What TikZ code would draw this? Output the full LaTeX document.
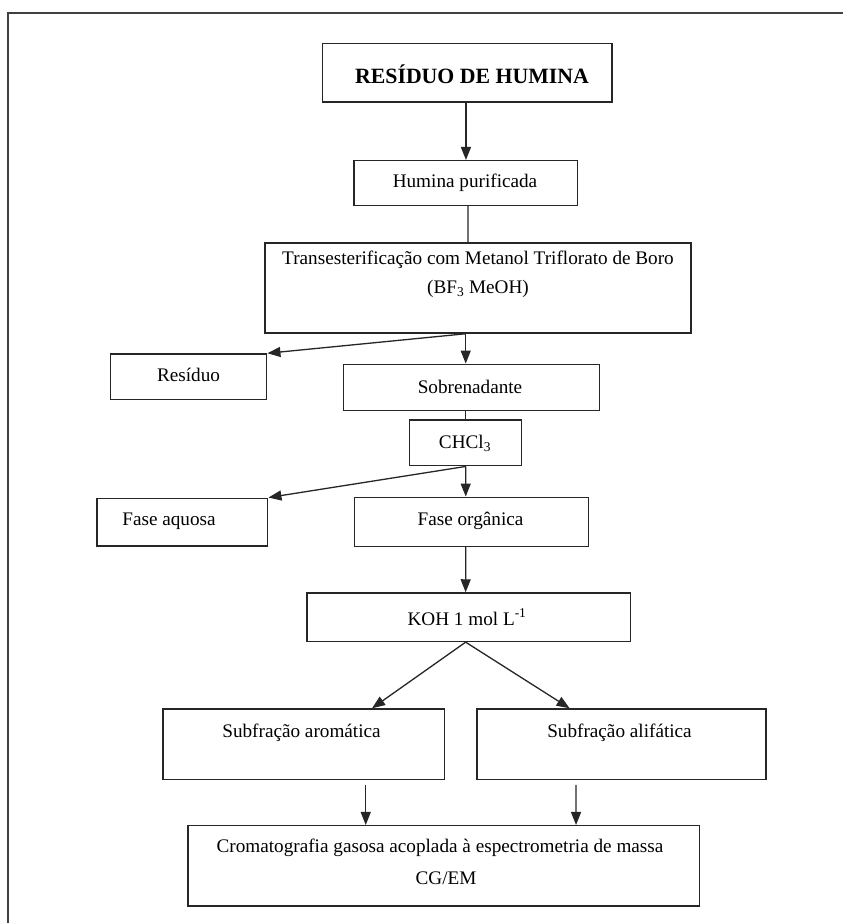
\documentclass[tikz,border=0pt]{standalone}
\usepackage{fontspec}
\setmainfont{Liberation Serif}
\usetikzlibrary{arrows.meta,calc}
\tikzset{
  x=1pt,y=-1pt,
  box/.style={draw=black!85,line width=1.5pt,inner sep=0pt,rectangle},
  txt/.style={inner sep=0pt,font=\fontsize{19.2}{29}\selectfont,align=center},
  arr/.style={draw=black!85,line width=1.3pt,-{Triangle[length=13pt,width=10pt]}},
  ln/.style={draw=black!85,line width=1.3pt},
  frame/.style={draw=black!75,line width=2pt}
}
% \bx{name}{x1}{y1}{x2}{y2}
\newcommand{\bx}[5]{\node[box,minimum width=#4-#2,minimum height=#5-#3] (#1) at ({(#2+#4)/2},{(#3+#5)/2}) {};}
\begin{document}
\begin{tikzpicture}
\useasboundingbox (0,0) rectangle (843,923);
\fill[white] (0,0) rectangle (843,923);
% outer frame (only top and left visible)
\draw[frame] (7,13) -- (843,13);
\draw[frame] (8,12) -- (8,923);

% boxes
\bx{top}{322.7}{43.3}{612}{102}
\bx{hum}{354}{160.7}{577.7}{205.3}
\bx{trans}{265}{243}{691}{333}
\bx{res}{110.7}{354}{266.7}{399.3}
\bx{sob}{343.3}{364.3}{599.3}{410.3}
\bx{chc}{409.7}{420}{521.7}{465.7}
\bx{aq}{97}{498.3}{267.7}{546}
\bx{org}{354.3}{497.3}{588.6}{546.4}
\bx{koh}{307}{593}{630.7}{641.4}
\bx{aro}{163.2}{709}{444.3}{779.6}
\bx{ali}{477}{709}{766}{779.6}
\bx{cg}{188.2}{825.7}{699.3}{906}

% texts
\node[txt,font=\fontsize{21.8}{26}\selectfont\bfseries] (ttop) at (472,74) {RESÍDUO DE HUMINA};
\node[txt] (thum) at (465,183) {Humina purificada};
\node[txt] (ttr1) at (478,260) {Transesterificação com Metanol Triflorato de Boro};
\node[txt] (ttr2) at (478,289) {(BF\textsubscript{3} MeOH)};
\node[txt] (tres) at (188.5,374.5) {Resíduo};
\node[txt] (tsob) at (470,386.5) {Sobrenadante};
\node[txt] (tchc) at (465,443) {CHCl\textsubscript{3}};
\node[txt] (taq) at (169,521) {Fase aquosa};
\node[txt] (torg) at (470.5,521) {Fase orgânica};
\node[txt] (tkoh) at (467,617) {KOH 1 mol L\textsuperscript{-1}};
\node[txt] (taro) at (301.5,732.5) {Subfração aromática};
\node[txt] (tali) at (619.5,732.5) {Subfração alifática};
\node[txt] (tcg1) at (440,847.5) {Cromatografia gasosa acoplada à espectrometria de massa};
\node[txt] (tcg2) at (446,878.5) {CG/EM};

% connectors
\draw[arr] ($(top.south)+(-1.4,0)$) -- ($(hum.north)+(0.1,0)$);
\draw[ln] ($(hum.south)+(2.1,0)$) -- ($(trans.north)+(-10,0)$);
\coordinate (tb) at ($(trans.south)+(-12.3,0)$);
\draw[arr] (tb) -- ($(sob.north)+(-5.6,0)$);
\draw[arr] (tb) -- (res.north east);
\draw[ln] ($(sob.south)+(-5.6,0)$) -- ($(chc.north)+(0,0)$);
\draw[arr] (chc.south) -- ($(org.north)+(-5.7,0)$);
\draw[arr] (chc.south) -- (aq.north east);
\draw[arr] ($(org.south)+(-5.7,0)$) -- ($(koh.north)+(-3.2,0)$);
\draw[arr] ($(koh.south)+(-3.2,0)$) -- ($(aro.north)+(68.3,0)$);
\draw[arr] ($(koh.south)+(-3.2,0)$) -- ($(ali.north)+(-51.9,0)$);
\draw[arr] ($(aro.south)+(62,4.4)$) -- ($(cg.north)+(-78,0)$);
\draw[arr] ($(ali.south)+(-45.5,4.4)$) -- ($(cg.north)+(132.3,0)$);
\end{tikzpicture}
\end{document}
